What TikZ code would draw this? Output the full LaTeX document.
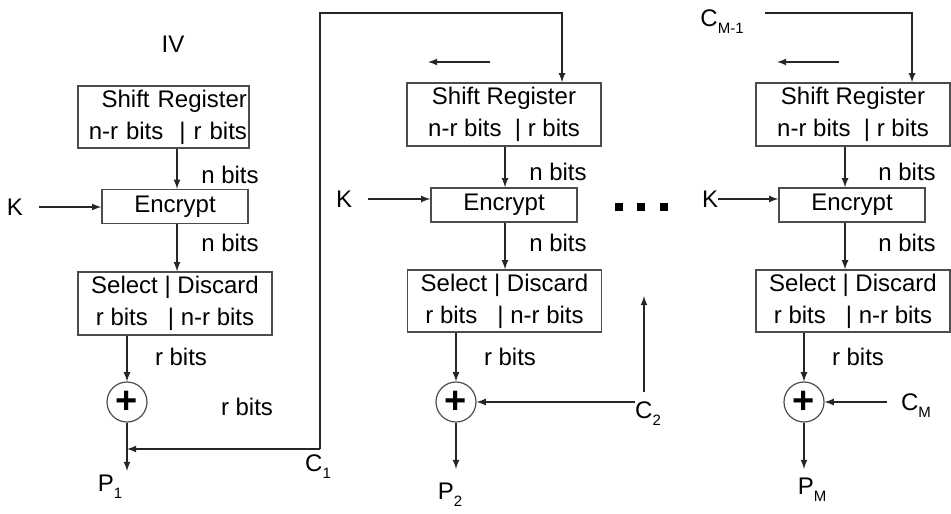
\documentclass[tikz,border=0pt]{standalone}
\usepackage{fontspec}
\setmainfont{Liberation Sans}
\usetikzlibrary{positioning}

\newcommand{\lowsub}[1]{\raisebox{-0.55ex}{\fontsize{7.5}{8}\selectfont #1}}

\begin{document}
\begin{tikzpicture}[x=0.5pt,y=-0.5pt,
  every node/.style={font=\fontsize{12}{16}\selectfont},
  box/.style={draw=black!70, line width=0.7pt, inner sep=1pt, align=center},
  xor/.style={draw=black!70, line width=0.6pt, circle, minimum size=20pt, inner sep=0pt,
    font=\fontsize{19}{19}\selectfont\bfseries},
  conn/.style={line width=0.6pt, black!85}]
\useasboundingbox (0,0) rectangle (951,513);

% first block
\node[] (iv) at (173,44) {IV};
\node[box, text width=83.5pt, minimum height=31pt, align=right] (sr1) at (163.5,117) {Shift Register\\n-r bits~~| r bits};
\node[box, minimum width=73pt, minimum height=17pt] (enc1) at (175,206.5) {Encrypt};
\node[box, minimum width=97pt, minimum height=31.5pt] (sel1) at (175,303.5) {Select | Discard\\r bits\ \ \ | n-r bits};
\node[xor] (x1) at (127,402) {+};
\node[inner sep=0pt] (k1) at (15,207) {K};
\node[] (n1a) at (230,175) {n bits};
\node[] (n1b) at (230,243) {n bits};
\node[] (r1a) at (181,357) {r bits};
\node[] (r1b) at (247,407) {r bits};
\node[] (p1) at (110,487) {P\lowsub{1}};
\node[] (c1) at (318,467) {C\lowsub{1}};

\coordinate (v1) at (177,148);
\coordinate (a1) at (127,471);
\coordinate (j1) at (127,449);
\coordinate (c1b) at (320,449);
\coordinate (t1) at (562,13);

\draw[conn,-latex] (v1 |- sr1.south) -- (v1 |- enc1.north);
\draw[conn,-latex] (v1 |- enc1.south) -- (v1 |- sel1.north);
\draw[conn,-latex, shorten <=8pt] (k1.east) -- (k1.east -| enc1.west);
\draw[conn,-latex] (x1.north |- sel1.south) -- (x1.north);
\draw[conn,-latex] (x1.south) -- (a1);
\draw[conn,-latex] (c1b) -- (j1);

% second block
\node[box, minimum width=97pt, minimum height=31.5pt] (sr2) at (504,114.5) {Shift Register\\n-r bits~~| r bits};
\node[box, minimum width=73pt, minimum height=17pt] (enc2) at (504,205) {Encrypt};
\node[box, minimum width=97pt, minimum height=31pt] (sel2) at (504.5,301) {Select | Discard\\r bits\ \ \ | n-r bits};
\node[xor] (x2) at (456,402) {+};
\node[inner sep=0pt] (k2) at (344,199) {K};
\node[] (n2a) at (558,172) {n bits};
\node[] (n2b) at (558,243) {n bits};
\node[] (r2a) at (510,357) {r bits};
\node[] (p2) at (450,495) {P\lowsub{2}};
\node[] (c2) at (648,414) {C\lowsub{2}};

\coordinate (v2) at (505,146);
\coordinate (a2) at (456,469);
\coordinate (s2a) at (490,62);
\coordinate (s2b) at (428,62);
\coordinate (c2a) at (635,402);
\coordinate (c2b) at (644,392);
\coordinate (c2c) at (644,296);

\draw[conn,-latex] (c1b) |- (t1) -- (t1 |- sr2.north);
\draw[conn,-latex] (s2a) -- (s2b);
\draw[conn,-latex] (v2 |- sr2.south) -- (v2 |- enc2.north);
\draw[conn,-latex] (v2 |- enc2.south) -- (v2 |- sel2.north);
\draw[conn,-latex, shorten <=8pt] (k2.east) -- (k2.east -| enc2.west);
\draw[conn,-latex] (x2.north |- sel2.south) -- (x2.north);
\draw[conn,-latex] (x2.south) -- (a2);
\draw[conn,-latex] (c2a) -- (x2.east);
\draw[conn,-latex] (c2b) -- (c2c);

% dots
\foreach \x in {619,641,664}
  \fill (\x-4,203) rectangle ++(8,8);

% last block
\node[] (cm1) at (722,22) {C\lowsub{M-1}};
\node[box, minimum width=97pt, minimum height=31.5pt] (sr3) at (853,114.5) {Shift Register\\n-r bits~~| r bits};
\node[box, minimum width=73pt, minimum height=17pt] (enc3) at (852,205) {Encrypt};
\node[box, minimum width=97pt, minimum height=31pt] (sel3) at (853,301) {Select | Discard\\r bits\ \ \ | n-r bits};
\node[xor] (x3) at (804,402) {+};
\node[inner sep=0pt] (k3) at (710,199) {K};
\node[] (n3a) at (907,172) {n bits};
\node[] (n3b) at (907,243) {n bits};
\node[] (r3a) at (858,357) {r bits};
\node[] (pm) at (812,490) {P\lowsub{M}};
\node[] (cm) at (916,406) {C\lowsub{M}};

\coordinate (v3) at (845,146);
\coordinate (a3) at (804,469);
\coordinate (s3a) at (839,62);
\coordinate (s3b) at (777,62);
\coordinate (t3a) at (765,13);
\coordinate (t3b) at (912,13);
\coordinate (cma) at (887,402);

\draw[conn,-latex] (s3a) -- (s3b);
\draw[conn,-latex] (t3a) -- (t3b) -- (t3b |- sr3.north);
\draw[conn,-latex] (v3 |- sr3.south) -- (v3 |- enc3.north);
\draw[conn,-latex] (v3 |- enc3.south) -- (v3 |- sel3.north);
\draw[conn,-latex] (k3.east) -- (k3.east -| enc3.west);
\draw[conn,-latex] (x3.north |- sel3.south) -- (x3.north);
\draw[conn,-latex] (x3.south) -- (a3);
\draw[conn,-latex] (cma) -- (x3.east);

\end{tikzpicture}
\end{document}
